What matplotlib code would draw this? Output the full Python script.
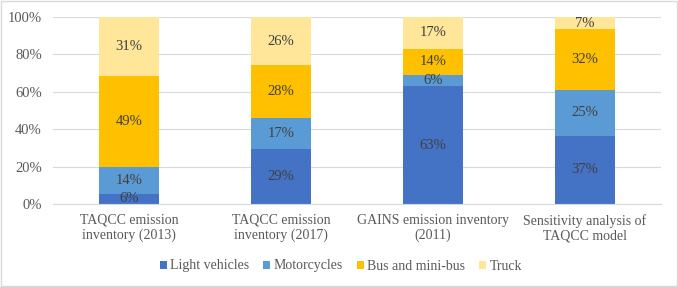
import matplotlib
matplotlib.use('agg')
import matplotlib.pyplot as plt
import numpy as np
from matplotlib.patches import Rectangle

categories = ['TAQCC emission\ninventory (2013)', 'TAQCC emission\ninventory (2017)',
              'GAINS emission inventory\n(2011)', 'Sensitivity analysis of\nTAQCC model']
light = [5.5, 29.3, 62.9, 36.6]
moto = [14.3, 16.6, 6.1, 24.6]
bus = [48.8, 28.2, 14.0, 32.2]
truck = [31.4, 25.9, 17.0, 6.6]
series = ['Light vehicles', 'Motorcycles', 'Bus and mini-bus', 'Truck']
colors = ['#4472C4', '#5B9BD5', '#FFC000', '#FFE699']

plt.rcParams['font.family'] = ['Liberation Serif', 'DejaVu Serif']

fig = plt.figure(figsize=(6.78, 2.87), dpi=100)
ax = fig.add_axes([53 / 678, 1 - 204 / 287, 608 / 678, 187 / 287])

x = np.arange(len(categories))
bottom = np.zeros(len(categories))
for vals, name, col in zip([light, moto, bus, truck], series, colors):
    vals = np.array(vals)
    ax.bar(x, vals, 0.4, bottom=bottom, color=col, label=name, zorder=2)
    for xi, b, v in zip(x, bottom, vals):
        ax.text(xi, b + v / 2, f'{v:.0f}%', ha='center', va='center',
                fontsize=10.5, color='#404040', zorder=3)
    bottom += vals

ax.set_xlim(-0.5, 3.5)
ax.set_ylim(0, 100)
ax.set_yticks(range(0, 101, 20))
ax.set_yticklabels([f'{t}%' for t in range(0, 101, 20)])
ax.set_xticks(x)
ax.set_xticklabels(categories, linespacing=1.2)
ax.tick_params(axis='both', length=0, labelsize=10.5, labelcolor='#595959')
ax.tick_params(axis='x', labelsize=10, pad=7)
ax.tick_params(axis='y', pad=8)
ax.yaxis.grid(True, color='#d9d9d9', linewidth=0.8, zorder=0)
for s in ['top', 'right', 'left']:
    ax.spines[s].set_visible(False)
ax.spines['bottom'].set_color('#d9d9d9')

fig.legend(loc='center', bbox_to_anchor=(341 / 678, 1 - 266 / 287), ncol=4,
           frameon=False, fontsize=10, handlelength=0.5, handleheight=0.5,
           handletextpad=0.25, columnspacing=1.0, labelcolor='#595959')

fig.patches.append(Rectangle((0.002, 0.003), 0.996, 0.994, transform=fig.transFigure,
                             fill=False, edgecolor='#d9d9d9', linewidth=1))

fig.savefig('out.png', dpi=100)
